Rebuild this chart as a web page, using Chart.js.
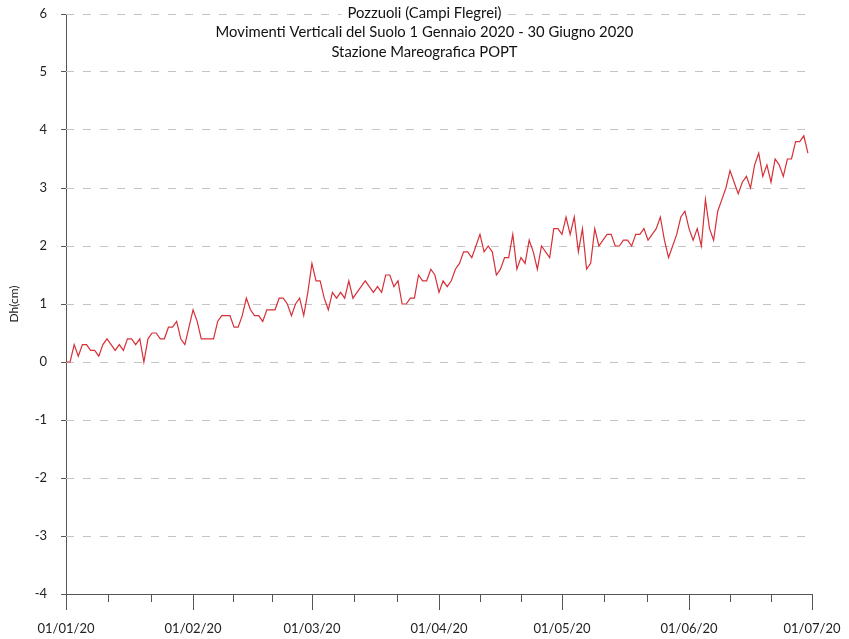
<!DOCTYPE html>
<html>
<head>
<meta charset="utf-8">
<script src="https://cdn.jsdelivr.net/npm/chart.js@4.4.0/dist/chart.umd.min.js"></script>
<style>
  html, body { margin: 0; padding: 0; background: #fff; }
</style>
</head>
<body>
<canvas id="graficoPozzuoli" width="849" height="639"></canvas>
<script>
// Dh (cm) giornaliero, un array per mese
const gennaio = [0.0,0.0,0.3,0.1,0.3,0.3,0.2,0.2,0.1,0.3,0.4,0.3,0.2,0.3,0.2,0.4,0.4,0.3,0.4,0.0,0.4,0.5,0.5,0.4,0.4,0.6,0.6,0.7,0.4,0.3,0.6];
const febbraio = [0.9,0.7,0.4,0.4,0.4,0.4,0.7,0.8,0.8,0.8,0.6,0.6,0.8,1.1,0.9,0.8,0.8,0.7,0.9,0.9,0.9,1.1,1.1,1.0,0.8,1.0,1.1,0.8,1.2];
const marzo = [1.7,1.4,1.4,1.1,0.9,1.2,1.1,1.2,1.1,1.4,1.1,1.2,1.3,1.4,1.3,1.2,1.3,1.2,1.5,1.5,1.3,1.4,1.0,1.0,1.1,1.1,1.5,1.4,1.4,1.6,1.5];
const aprile = [1.2,1.4,1.3,1.4,1.6,1.7,1.9,1.9,1.8,2.0,2.2,1.9,2.0,1.9,1.5,1.6,1.8,1.8,2.2,1.6,1.8,1.7,2.1,1.9,1.6,2.0,1.9,1.8,2.3,2.3];
const maggio = [2.2,2.5,2.2,2.5,1.9,2.3,1.6,1.7,2.3,2.0,2.1,2.2,2.2,2.0,2.0,2.1,2.1,2.0,2.2,2.2,2.3,2.1,2.2,2.3,2.5,2.1,1.8,2.0,2.2,2.5,2.6];
const giugno = [2.3,2.1,2.3,2.0,2.8,2.3,2.1,2.6,2.8,3.0,3.3,3.1,2.9,3.1,3.2,3.0,3.4,3.6,3.2,3.4,3.1,3.5,3.4,3.2,3.5,3.5,3.8,3.8,3.9,3.6];

const etichetteMesi = ["01/01/20","01/02/20","01/03/20","01/04/20","01/05/20","01/06/20","01/07/20"];
const inizioMesi = [0, 31, 60, 91, 121, 152, 182]; // giorni dal 1 gennaio
const titolo = ["Pozzuoli (Campi Flegrei)", "Movimenti Verticali del Suolo 1 Gennaio 2020 - 30 Giugno 2020", "Stazione Mareografica POPT"];

const valori = [].concat(gennaio, febbraio, marzo, aprile, maggio, giugno);
const punti = valori.map((v, i) => ({ x: i, y: v }));

const FONT = "Lato";
const AXIS_COLOR = "#555";

// tacche dell'asse x: lunghe a inizio mese, corte ogni terzo di mese
const tacchePlugin = {
    id: "tacche",
    afterDraw(chart) {
        const ctx = chart.ctx;
        const xs = chart.scales.x;
        const bottom = chart.chartArea.bottom;
        ctx.save();
        ctx.strokeStyle = AXIS_COLOR;
        ctx.lineWidth = 1;
        xs.ticks.forEach(t => {
            const px = Math.round(xs.getPixelForValue(t.value)) + 0.5;
            const len = t.major ? 16 : 8;
            ctx.beginPath();
            ctx.moveTo(px, bottom);
            ctx.lineTo(px, bottom + len);
            ctx.stroke();
        });
        ctx.restore();
    }
};

const titoloPlugin = {
    id: "titoloInterno",
    afterDraw(chart) {
        const ctx = chart.ctx;
        const cx = chart.width / 2;
        const righe = [13, 32, 52];
        ctx.save();
        ctx.font = "14.8px " + FONT;
        ctx.textAlign = "center";
        ctx.textBaseline = "middle";
        titolo.forEach((t, i) => {
            const w = ctx.measureText(t).width;
            ctx.fillStyle = "#fff";
            ctx.fillRect(cx - w / 2 - 6, righe[i] - 8, w + 12, 16);
            ctx.fillStyle = "#111";
            ctx.fillText(t, cx, righe[i]);
        });
        ctx.restore();
    }
};

const canvas = document.getElementById("graficoPozzuoli").getContext("2d");

new Chart(canvas, {
    type: "line",
    data: {
        datasets: [{
            data: punti,
            borderColor: "rgb(214, 48, 56)",
            borderWidth: 1.2,
            pointRadius: 0,
            tension: 0,
            fill: false
        }]
    },
    options: {
        responsive: false,
        animation: false,
        layout: { padding: { top: 14, right: 37, bottom: 0, left: 0 } },
        plugins: {
            legend: { display: false },
            tooltip: { enabled: false }
        },
        scales: {
            x: {
                type: "linear",
                min: 0,
                max: 182,
                afterBuildTicks(scale) {
                    const t = [];
                    for (let m = 0; m < inizioMesi.length - 1; m++) {
                        const a = inizioMesi[m], b = inizioMesi[m + 1];
                        t.push({ value: a, major: true });
                        t.push({ value: a + (b - a) / 3, major: false });
                        t.push({ value: a + 2 * (b - a) / 3, major: false });
                    }
                    t.push({ value: inizioMesi[inizioMesi.length - 1], major: true });
                    scale.ticks = t;
                },
                afterFit(scale) {
                    scale.height = 45;
                    scale.paddingLeft = 0;
                    scale.paddingRight = 0;
                },
                ticks: {
                    autoSkip: false,
                    maxRotation: 0,
                    minRotation: 0,
                    padding: 27,
                    color: "#222",
                    font: { family: FONT, size: 13 },
                    callback(value) {
                        const i = inizioMesi.indexOf(value);
                        return i >= 0 ? etichetteMesi[i] : "";
                    }
                },
                grid: {
                    drawOnChartArea: true,
                    drawTicks: false,
                    color: ctx => (ctx.tick && ctx.tick.value === 0) ? AXIS_COLOR : "rgba(0,0,0,0)",
                    lineWidth: 1
                },
                border: { display: true, color: AXIS_COLOR, width: 1 }
            },
            y: {
                min: -4,
                max: 6,
                afterFit(scale) {
                    scale.width = 66;
                    scale.paddingTop = 0;
                    scale.paddingBottom = 0;
                },
                ticks: {
                    stepSize: 1,
                    padding: 14,
                    color: "#222",
                    font: { family: FONT, size: 13 }
                },
                title: {
                    display: true,
                    text: "Dh(cm)",
                    color: "#222",
                    font: { family: FONT, size: 12 },
                    padding: { top: 7, bottom: 0 }
                },
                grid: {
                    color: ctx => (ctx.tick && ctx.tick.value === -4) ? "rgba(0,0,0,0)" : "#c4c4c4",
                    lineWidth: 1,
                    tickLength: 5,
                    tickColor: AXIS_COLOR
                },
                border: { display: false, dash: [8, 9] }
            }
        }
    },
    plugins: [tacchePlugin, titoloPlugin]
});
</script>
</body>
</html>
